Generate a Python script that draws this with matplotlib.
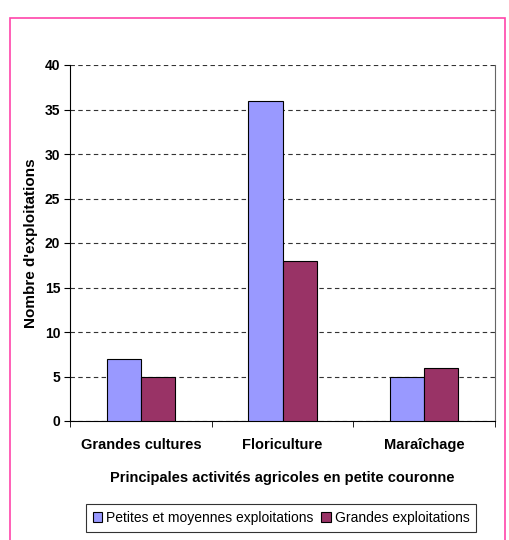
import matplotlib
matplotlib.use("Agg")
import matplotlib.pyplot as plt
from matplotlib.patches import Rectangle
import numpy as np

categories = ["Grandes cultures", "Floriculture", "Maraîchage"]
series_names = ["Petites et moyennes exploitations", "Grandes exploitations"]
petites = [7, 36, 5]
grandes = [5, 18, 6]
yticks = [0, 5, 10, 15, 20, 25, 30, 35, 40]

plt.rcParams['font.family'] = ['Liberation Sans', 'DejaVu Sans']

W, H = 510, 540
fig = plt.figure(figsize=(W/100, H/100), dpi=100)
fig.patch.set_facecolor("white")

# pink outer frame
fig.patches.append(Rectangle((10/W, -0.05), 495/W, (H-18)/H + 0.05, transform=fig.transFigure,
                             fill=False, edgecolor="#FF44AA", linewidth=1.2, clip_on=False))

ax = fig.add_axes([70/W, 1-421/H, 425/W, (421-65)/H])
x = np.arange(len(categories))
bw = 0.24
ax.bar(x - bw/2, petites, bw, color="#9999FF", edgecolor="black", linewidth=0.8, label=series_names[0], zorder=3)
ax.bar(x + bw/2, grandes, bw, color="#993366", edgecolor="black", linewidth=0.8, label=series_names[1], zorder=3)

ax.set_xlim(-0.5, 2.5)
ax.set_ylim(0, 40)
ax.set_yticks(yticks)
ax.set_yticklabels([str(v) for v in yticks], fontsize=10, fontweight="bold")
ax.yaxis.grid(True, linestyle=(0, (4, 3)), color="#333333", linewidth=0.8, zorder=0)
ax.set_axisbelow(True)

ax.set_xticks(x)
ax.set_xticklabels(categories, fontsize=10.5, fontweight="bold")
ax.tick_params(axis="x", length=0, pad=12)
ax.set_xticks([-0.5, 0.5, 1.5, 2.5], minor=True)
ax.tick_params(axis="x", which="minor", length=4, direction="out")
ax.tick_params(axis="y", length=4, direction="out", pad=3)

ax.spines["top"].set_visible(False)
ax.spines["right"].set_color("#666666")
ax.spines["left"].set_color("black")
ax.spines["bottom"].set_color("black")

ax.set_xlabel("Principales activités agricoles en petite couronne", fontsize=10.5, fontweight="bold", labelpad=14)
ax.set_ylabel("Nombre d'exploitations", fontsize=11, fontweight="bold", labelpad=5)

leg = fig.legend(loc="center", bbox_to_anchor=(281/W, 1-518/H), ncol=2, fontsize=10,
                 frameon=True, fancybox=False, edgecolor="black", handlelength=0.7,
                 handleheight=0.7, handletextpad=0.3, columnspacing=0.5, borderpad=0.5)
leg.get_frame().set_linewidth(0.8)

fig.savefig("out.png", dpi=100)
